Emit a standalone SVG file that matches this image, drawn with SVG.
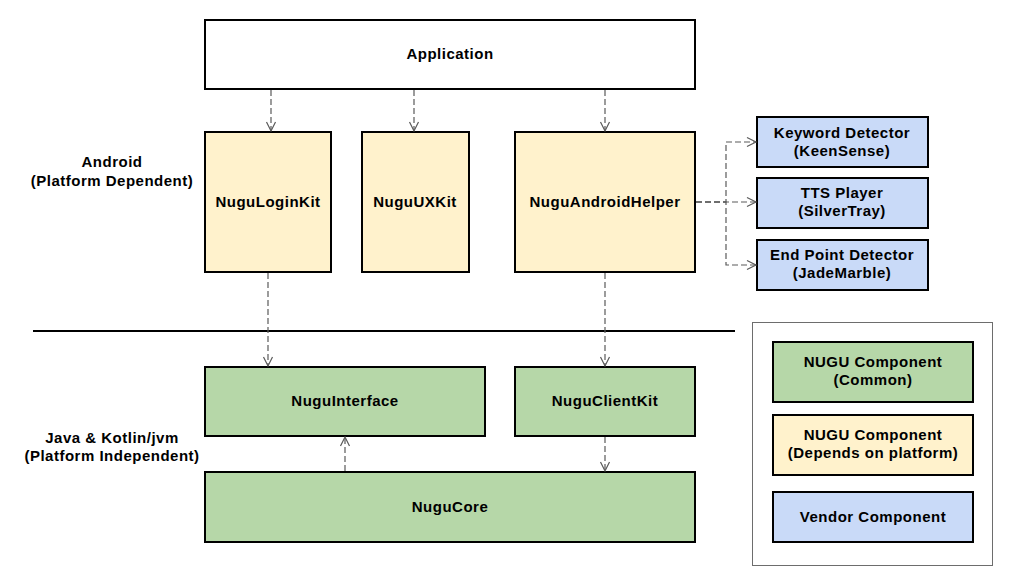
<svg xmlns="http://www.w3.org/2000/svg" width="1012" height="587" viewBox="0 0 1012 587">
<defs>
<marker id="arr" markerWidth="12" markerHeight="12" viewBox="0 0 12 12" refX="10" refY="6" orient="auto" markerUnits="userSpaceOnUse">
<path d="M1,1.5 L10,6 L1,10.5" fill="none" stroke="#5a5a5a" stroke-width="1.2"/>
</marker>
<style>
text{font-family:"Liberation Sans",Arial,sans-serif;font-weight:bold;font-size:15px;letter-spacing:0.5px;fill:#000;text-anchor:middle;dominant-baseline:central}
.box{stroke:#000;stroke-width:2}
.white{fill:#fff}
.yel{fill:#fff2cc}
.grn{fill:#b6d7a8}
.blu{fill:#c9daf8}
.con{fill:none;stroke:#5a5a5a;stroke-width:1.2;stroke-dasharray:6 3;marker-end:url(#arr)}
</style>
</defs>
<rect width="1012" height="587" fill="#fff"/>
<g id="labels">
<text x="112" y="161">Android</text>
<text x="112" y="180">(Platform Dependent)</text>
<text x="112" y="437">Java &amp; Kotlin/jvm</text>
<text x="112" y="455">(Platform Independent)</text>
</g>
<line id="separator" x1="33" y1="331" x2="735" y2="331" stroke="#000" stroke-width="2"/>
<g id="application"><rect class="box white" x="205" y="20" width="490" height="69"/><text x="450" y="53">Application</text></g>
<g id="nugulogin"><rect class="box yel" x="205" y="132" width="126" height="140"/><text x="268" y="201">NuguLoginKit</text></g>
<g id="nuguux"><rect class="box yel" x="362" y="132" width="107" height="140"/><text x="415" y="201">NuguUXKit</text></g>
<g id="nuguhelper"><rect class="box yel" x="515" y="132" width="180" height="140"/><text x="605" y="201">NuguAndroidHelper</text></g>
<g id="keyword"><rect class="box blu" x="757" y="117" width="171" height="50"/><text x="842" y="132">Keyword Detector</text><text x="842" y="150">(KeenSense)</text></g>
<g id="tts"><rect class="box blu" x="757" y="178" width="171" height="50"/><text x="842" y="192">TTS Player</text><text x="842" y="210">(SilverTray)</text></g>
<g id="epd"><rect class="box blu" x="757" y="240" width="171" height="50"/><text x="842" y="254">End Point Detector</text><text x="842" y="272">(JadeMarble)</text></g>
<g id="nuguinterface"><rect class="box grn" x="205" y="367" width="280" height="69"/><text x="345" y="400">NuguInterface</text></g>
<g id="nuguclient"><rect class="box grn" x="515" y="367" width="180" height="69"/><text x="605" y="400">NuguClientKit</text></g>
<g id="nugucore"><rect class="box grn" x="205" y="472" width="490" height="70"/><text x="450" y="506">NuguCore</text></g>
<g id="legend">
<rect x="752.5" y="322.5" width="240" height="243" fill="#fff" stroke="#6d6d6d" stroke-width="1"/>
<rect class="box grn" x="773" y="342" width="200" height="60"/><text x="873" y="361">NUGU Component</text><text x="873" y="379">(Common)</text>
<rect class="box yel" x="773" y="415" width="200" height="60"/><text x="873" y="434">NUGU Component</text><text x="873" y="452">(Depends on platform)</text>
<rect class="box blu" x="773" y="492" width="200" height="50"/><text x="873" y="516">Vendor Component</text>
</g>
<g id="connectors">
<path class="con" d="M271,90 V131"/>
<path class="con" d="M414,90 V131"/>
<path class="con" d="M605,90 V131"/>
<path class="con" d="M268,273 V366"/>
<path class="con" d="M605,273 V366"/>
<path class="con" d="M605,437 V471"/>
<path class="con" d="M345,471 V437"/>
<path class="con" d="M696,202 H726 V142 H756"/>
<path class="con" d="M696,202 H756"/>
<path class="con" d="M696,202 H726 V265 H756"/>
</g>
</svg>
